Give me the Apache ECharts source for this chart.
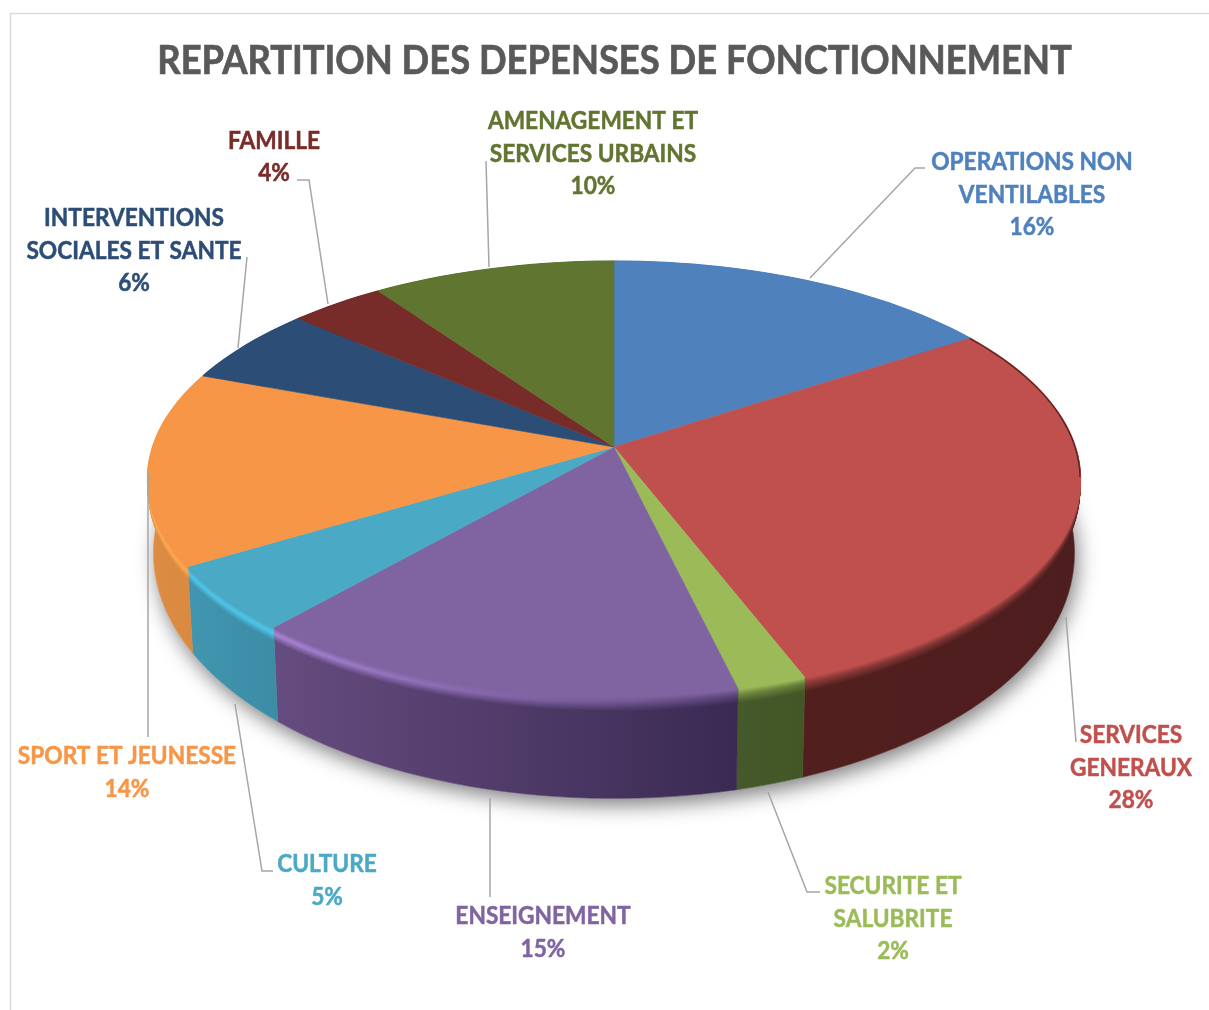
<!DOCTYPE html>
<html><head><meta charset="utf-8">
<style>html,body{margin:0;padding:0;background:#fff}#c{width:1209px;height:1010px}</style>
<script src="https://cdn.jsdelivr.net/npm/echarts@6/dist/echarts.min.js"></script>
</head><body><div id="c"></div>
<script>
const titleText = 'REPARTITION DES DEPENSES DE FONCTIONNEMENT';
const categories = ['OPERATIONS NON\nVENTILABLES','SERVICES\nGENERAUX','SECURITE ET\nSALUBRITE','ENSEIGNEMENT','CULTURE','SPORT ET JEUNESSE','INTERVENTIONS\nSOCIALES ET SANTE','FAMILLE','AMENAGEMENT ET\nSERVICES URBAINS'];
const values = [15.7, 28.49, 2.11, 15.1, 4.9, 14.4, 5.8, 3.8, 9.7];

// styles
const topColors  = ['#4f81bd','#c0504d','#9bbb59','#8064a2','#4aa9c5','#f79646','#2c4d75','#772c2a','#5f7530'];
const wallLeft   = ['#3a5f8c','#521f1f','#46592a','#664c80','#4196b0','#de8c44','#1f3752','#4f1d1c','#46571f'];
const wallRight  = ['#3a5f8c','#4e1d1d','#435626','#3a2a52','#3c8ca6','#d88840','#1f3752','#4f1d1c','#46571f'];
const glowLeft   = ['#4f81bd','#8a3a38','#6f8a40','#a985d6','#4ec6ea','#fdaa5a','#2c4d75','#772c2a','#5f7530'];
const glowRight  = ['#4f81bd','#7a3332','#627a38','#5c4478','#4ec6ea','#fba654','#2c4d75','#772c2a','#5f7530'];

// layout of labels: centre of text block
const labelPos = [[1032,195],[1131,768],[893,919],[543,933],[327,881],[127,773],[134,251],[274,157.5],[593,154]];
const leaders = [
 [[810,278],[915,168],[925,168]],
 [[1066,617],[1076,742]],
 [[768,792],[807,892],[820,892]],
 [[490,798],[490,897]],
 [[235,704],[262,871],[273,871]],
 [[148,471],[148,737]],
 [[247,257],[238,348]],
 [[297,180],[309,180],[328,304]],
 [[486,161],[489,267]]
];

// geometry of the perspective disc
const K = 0.147, STEPS = 4, RY = 212.7;
const total = values.reduce((a,b)=>a+b,0);
let acc = 0;
const sliceData = values.map((v,i)=>{const s=acc/total; acc+=v; return [s,acc/total,i];});

function topPoint(th){
  const u=Math.sin(th), v=Math.cos(th), w=1+K*v;
  return [u/w, v/w];
}
function lowPoint(th){
  const v=Math.cos(th), p=topPoint(th);
  return [p[0]*0.988, p[1]*0.98-(69-38*v)/RY];
}
function mix(t,th){
  const a=topPoint(th), b=lowPoint(th);
  return [a[0]+(b[0]-a[0])*t, a[1]+(b[1]-a[1])*t];
}
function arc(s,e,fn,api){
  const n=Math.max(2,Math.ceil((e-s)*360/STEPS)*2), out=[];
  for(let i=0;i<=n;i++){ out.push(api.coord(fn(2*Math.PI*(s+(e-s)*i/n)))); }
  return out;
}
function hex(c){return [1,3,5].map(i=>parseInt(c.substr(i,2),16));}
function lerp(c1,c2,t){const a=hex(c1),b=hex(c2);return 'rgb('+a.map((x,i)=>Math.round(x+(b[i]-x)*t)).join(',')+')';}
function band(c0,c1,c2,t){ return t<0.4 ? lerp(c0,c1,t/0.4) : lerp(c1,c2,(t-0.4)/0.6); }
const LG = (a,b)=>new echarts.graphic.LinearGradient(0,0,1,0,[{offset:0,color:a},{offset:1,color:b}]);

function renderShadow(params,api){
  const pts=arc(0,1,lowPoint,api);
  return {type:'polygon',shape:{points:pts},style:{fill:'#fff',shadowBlur:20,shadowColor:'rgba(0,0,0,0.5)',shadowOffsetX:3,shadowOffsetY:7}};
}
function renderWall(params,api){
  const s=api.value(0),e=api.value(1),i=api.value(2);
  const a=arc(s,e,topPoint,api), b=arc(s,e,lowPoint,api).reverse();
  const children=[{type:'polygon',shape:{points:a.concat(b)},style:{fill:LG(wallLeft[i],wallRight[i]),stroke:LG(wallLeft[i],wallRight[i]),lineWidth:0.6}}];
  const N=12;
  for(let j=N;j>=0;j--){
    const t=j/N;
    const pts=arc(s,e,th=>mix(t*0.14,th),api);
    children.push({type:'polyline',shape:{points:pts},style:{fill:'none',lineWidth:2.2,
      stroke:LG(band(topColors[i],glowLeft[i],wallLeft[i],t),band(topColors[i],glowRight[i],wallRight[i],t))}});
  }
  return {type:'group',children};
}
function renderTop(params,api){
  const s=api.value(0),e=api.value(1),i=api.value(2);
  const pts=[api.coord([0,0])].concat(arc(s,e,topPoint,api));
  const children=[{type:'polygon',shape:{points:pts},style:{fill:topColors[i],stroke:topColors[i],lineWidth:0.6}}];
  if(i===1){
    children.push({type:'polyline',shape:{points:arc(s,s+0.115,topPoint,api)},style:{fill:'none',stroke:'#5a2624',lineWidth:1.4}});
  }
  return {type:'group',children};
}
function renderLeader(params,api){
  const i=api.value(2);
  return {type:'polyline',shape:{points:leaders[i]},style:{fill:'none',stroke:'#a6a6a6',lineWidth:1.5}};
}
function renderLabel(params,api){
  const i=api.value(2);
  return {type:'text',x:labelPos[i][0],y:labelPos[i][1],scaleX:0.945,
    style:{text:categories[i]+'\n'+Math.round(values[i])+'%',fontFamily:'Lato',fontWeight:'bold',fontSize:24,lineHeight:32.5,
      fill:topColors[i],stroke:topColors[i],lineWidth:0.5,align:'center',verticalAlign:'middle'}};
}

const chart=echarts.init(document.getElementById('c'),null,{renderer:'canvas'});
chart.setOption({
  animation:false,
  backgroundColor:'#ffffff',
  grid:{left:614-1.2*461,top:447-1.5*RY,width:2.4*461,height:3.5*RY},
  xAxis:{type:'value',min:-1.2,max:1.2,show:false},
  yAxis:{type:'value',min:-2,max:1.5,show:false},
  graphic:[
    {type:'polyline',shape:{points:[[10.5,1010],[10.5,13.5],[1209,13.5]]},style:{fill:'none',stroke:'#d9d9d9',lineWidth:1.5},silent:true},
    {type:'text',x:614.5,y:61,scaleX:0.909,silent:true,style:{text:titleText,fontFamily:'Lato',fontWeight:'bold',fontSize:40,fill:'#595959',stroke:'#595959',lineWidth:0.7,align:'center',verticalAlign:'middle'}}
  ],
  series:[
    {type:'custom',renderItem:renderShadow,data:[[0,1,0]],z:1,silent:true},
    {type:'custom',renderItem:renderWall,data:sliceData,z:2,silent:true},
    {type:'custom',renderItem:renderTop,data:sliceData,z:3,silent:true},
    {type:'custom',renderItem:renderLeader,data:sliceData,z:4,silent:true},
    {type:'custom',renderItem:renderLabel,data:sliceData,z:5,silent:true}
  ]
});
</script></body></html>
